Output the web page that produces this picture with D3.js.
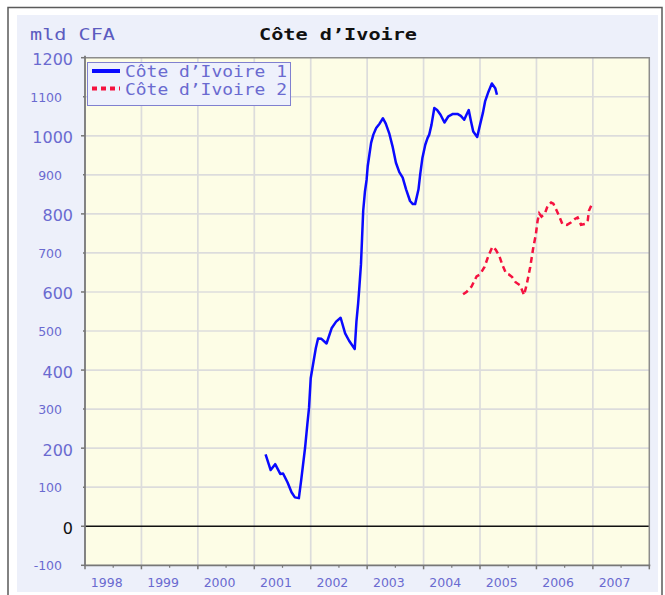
<!DOCTYPE html>
<html>
<head>
<meta charset="utf-8">
<script src="https://cdn.jsdelivr.net/npm/d3@7"></script>
<style>
  html, body { margin: 0; padding: 0; background: #ffffff; }
  svg { display: block; }
</style>
</head>
<body>
<div id="chart"></div>
<script>
// Côte d'Ivoire — series 1 (solid) and series 2 (dashed), mld CFA
const blueDates = [2001.20, 2001.29, 2001.37, 2001.46, 2001.51, 2001.59, 2001.66, 2001.72, 2001.79, 2001.83,
  2001.90, 2001.94, 2001.97, 2002.00, 2002.05, 2002.09, 2002.13, 2002.19, 2002.28, 2002.37,
  2002.45, 2002.53, 2002.61, 2002.68, 2002.78, 2002.81, 2002.84, 2002.86, 2002.89, 2002.91,
  2002.93, 2002.96, 2002.99, 2003.01, 2003.04, 2003.07, 2003.11, 2003.16, 2003.22, 2003.28,
  2003.33, 2003.39, 2003.45, 2003.51, 2003.57, 2003.63, 2003.69, 2003.76, 2003.81, 2003.85,
  2003.91, 2003.94, 2003.98, 2004.03, 2004.07, 2004.10, 2004.14, 2004.19, 2004.24, 2004.30,
  2004.37, 2004.44, 2004.52, 2004.60, 2004.66, 2004.72, 2004.76, 2004.80, 2004.84, 2004.88,
  2004.95, 2005.00, 2005.05, 2005.09, 2005.15, 2005.21, 2005.27, 2005.30];
const blueValues = [184, 144, 159, 134, 135, 112, 87, 74, 72, 117,
  201, 261, 303, 379, 422, 456, 481, 480, 468, 507,
  524, 534, 494, 475, 454, 524, 570, 608, 670, 738,
  808, 856, 887, 922, 952, 982, 1003, 1020, 1031, 1045,
  1031, 1007, 973, 931, 907, 893, 863, 833, 825, 825,
  863, 901, 944, 977, 994, 1003, 1028, 1071, 1066, 1054,
  1034, 1050, 1056, 1056, 1051, 1041, 1054, 1066, 1037, 1011,
  997, 1028, 1058, 1088, 1113, 1134, 1122, 1105];

const redDates = [2004.70, 2004.76, 2004.85, 2004.94, 2005.00, 2005.08, 2005.15, 2005.22, 2005.28, 2005.34,
  2005.40, 2005.46, 2005.51, 2005.57, 2005.63, 2005.71, 2005.78, 2005.83, 2005.89, 2005.94,
  2005.99, 2006.02, 2006.05, 2006.09, 2006.15, 2006.20, 2006.26, 2006.30, 2006.36, 2006.40,
  2006.46, 2006.54, 2006.61, 2006.68, 2006.73, 2006.79, 2006.86, 2006.91, 2006.93, 2006.97];
const redValues = [594, 600, 614, 640, 645, 664, 693, 716, 708, 693,
  668, 648, 645, 638, 625, 617, 592, 621, 664, 710,
  748, 782, 801, 793, 801, 821, 829, 826, 808, 795,
  774, 772, 778, 787, 791, 772, 774, 784, 808, 821];

const seriesNames = ["Côte d’Ivoire 1", "Côte d’Ivoire 2"];
const yearLabels = ["1998", "1999", "2000", "2001", "2002", "2003", "2004", "2005", "2006", "2007"];
const yMajorTicks = [0, 200, 400, 600, 800, 1000, 1200];
const yMinorTicks = [-100, 100, 300, 500, 700, 900, 1100];
const titleText = "Côte d’Ivoire";
const unitText = "mld CFA";

const W = 665, H = 595;
const plot = { left: 85, right: 649.3, top: 57.7, bottom: 565.3 };
const labelBlue = "#6a6ad0";

const svg = d3.select("#chart").append("svg")
  .attr("width", W).attr("height", H)
  .style("font-family", "'DejaVu Sans', Verdana, sans-serif");

// outer frame and panel
svg.append("rect").attr("x", 8).attr("y", 7.5).attr("width", 654).attr("height", 600)
  .attr("fill", "#ffffff").attr("stroke", "#5a5a5a").attr("stroke-width", 1.5);
svg.append("rect").attr("x", 17).attr("y", 15).attr("width", 641).attr("height", 577)
  .attr("fill", "#edf0fa");

const x = d3.scaleLinear().domain([1998, 2008]).range([plot.left, plot.right]);
const y = d3.scaleLinear().domain([-100, 1200]).range([plot.bottom, plot.top]);

// plot background
svg.append("rect")
  .attr("x", plot.left).attr("y", plot.top)
  .attr("width", plot.right - plot.left).attr("height", plot.bottom - plot.top)
  .attr("fill", "#fdfde6");

// gridlines
const allY = d3.range(-100, 1201, 100);
svg.append("g").selectAll("line").data(allY.filter(v => v > -100 && v < 1200 && v !== 0)).join("line")
  .attr("x1", plot.left).attr("x2", plot.right)
  .attr("y1", d => y(d)).attr("y2", d => y(d))
  .attr("stroke", "#dcdcdc").attr("stroke-width", 1.7);
const gridYears = d3.range(1999, 2008);
svg.append("g").selectAll("line").data(gridYears).join("line")
  .attr("x1", d => x(d)).attr("x2", d => x(d))
  .attr("y1", plot.top).attr("y2", plot.bottom)
  .attr("stroke", "#dcdcdc").attr("stroke-width", 1.7);

// zero line
svg.append("line")
  .attr("x1", plot.left).attr("x2", plot.right)
  .attr("y1", y(0)).attr("y2", y(0))
  .attr("stroke", "#111").attr("stroke-width", 1.5);

// plot border
svg.append("path")
  .attr("d", `M${plot.left},${plot.top}H${plot.right}V${plot.bottom}`)
  .attr("fill", "none").attr("stroke", "#8c8c8c").attr("stroke-width", 1.5);
svg.append("path")
  .attr("d", `M${plot.left},${plot.top - 2}V${plot.bottom}H${plot.right + 1}`)
  .attr("fill", "none").attr("stroke", "#777").attr("stroke-width", 1.8);

// y ticks
svg.append("g").selectAll("line").data(yMajorTicks.concat([-100])).join("line")
  .attr("x1", plot.left - 4).attr("x2", plot.left)
  .attr("y1", d => y(d)).attr("y2", d => y(d))
  .attr("stroke", "#777").attr("stroke-width", 1.5);
svg.append("g").selectAll("line").data(yMinorTicks.filter(v => v > -100)).join("line")
  .attr("x1", plot.left - 2).attr("x2", plot.left)
  .attr("y1", d => y(d)).attr("y2", d => y(d))
  .attr("stroke", "#777").attr("stroke-width", 1.5);

// y labels
svg.append("g").selectAll("text").data(yMajorTicks).join("text")
  .attr("x", 73).attr("y", d => y(d) + 2)
  .attr("text-anchor", "end").attr("dominant-baseline", "central")
  .attr("font-size", 16)
  .attr("fill", d => d === 0 ? "#111" : labelBlue)
  .text(d => d);
svg.append("g").selectAll("text").data(yMinorTicks).join("text")
  .attr("x", 62).attr("y", d => y(d) + 0.5)
  .attr("text-anchor", "end").attr("dominant-baseline", "central")
  .attr("font-size", 12.5)
  .attr("fill", labelBlue)
  .text(d => d);

// x ticks
const majorYears = d3.range(1998, 2009);
svg.append("g").selectAll("line").data(majorYears).join("line")
  .attr("x1", d => x(d)).attr("x2", d => x(d))
  .attr("y1", plot.bottom).attr("y2", plot.bottom + 4)
  .attr("stroke", "#777").attr("stroke-width", 1.5);
svg.append("g").selectAll("line").data(d3.range(1998, 2008).map(v => v + 0.5)).join("line")
  .attr("x1", d => x(d)).attr("x2", d => x(d))
  .attr("y1", plot.bottom).attr("y2", plot.bottom + 2.5)
  .attr("stroke", "#777").attr("stroke-width", 1.2);

// x labels
svg.append("g").selectAll("text").data(yearLabels).join("text")
  .attr("x", d => x(+d) + 21.7).attr("y", 582)
  .attr("text-anchor", "middle").attr("dominant-baseline", "central")
  .attr("font-size", 12.5).attr("fill", labelBlue)
  .text(d => d);

// series
const line = d3.line().x(d => x(d[0])).y(d => y(d[1]));
const blueData = d3.zip(blueDates, blueValues);
const redData = d3.zip(redDates, redValues);
svg.append("path").datum(blueData)
  .attr("d", line).attr("fill", "none")
  .attr("stroke", "#0a0aff").attr("stroke-width", 2.5)
  .attr("stroke-linejoin", "round");
svg.append("path").datum(redData)
  .attr("d", line).attr("fill", "none")
  .attr("stroke", "#f5123f").attr("stroke-width", 2.5)
  .attr("stroke-dasharray", "6,4");

// title and unit
const mono = "'DejaVu Sans Mono', 'Liberation Mono', monospace";
svg.append("text").attr("x", 30).attr("y", 40)
  .attr("font-family", mono).attr("font-size", 15)
  .attr("fill", "#5c5cc0")
  .attr("textLength", 85).attr("lengthAdjust", "spacingAndGlyphs")
  .text(unitText);
svg.append("text").attr("x", 259).attr("y", 40)
  .attr("font-family", mono).attr("font-size", 15).attr("font-weight", 600)
  .attr("fill", "#111")
  .attr("textLength", 158).attr("lengthAdjust", "spacingAndGlyphs")
  .text(titleText);

// legend
const lg = svg.append("g");
lg.append("rect").attr("x", 87.5).attr("y", 62.5).attr("width", 203).attr("height", 43)
  .attr("fill", "#eef1fc").attr("stroke", "#8080d0").attr("stroke-width", 1);
const legendItems = [
  { name: seriesNames[0], color: "#0a0aff", dash: null },
  { name: seriesNames[1], color: "#f5123f", dash: "5,4" }
];
legendItems.forEach((it, i) => {
  const cy = 71 + i * 17.5;
  lg.append("line").attr("x1", 92).attr("x2", 120).attr("y1", cy).attr("y2", cy)
    .attr("stroke", it.color).attr("stroke-width", 4)
    .attr("stroke-dasharray", it.dash);
  lg.append("text").attr("x", 125).attr("y", cy + 6)
    .attr("font-family", mono).attr("font-size", 16)
    .attr("fill", labelBlue)
    .attr("textLength", 162).attr("lengthAdjust", "spacingAndGlyphs")
    .text(it.name);
});
</script>
</body>
</html>
